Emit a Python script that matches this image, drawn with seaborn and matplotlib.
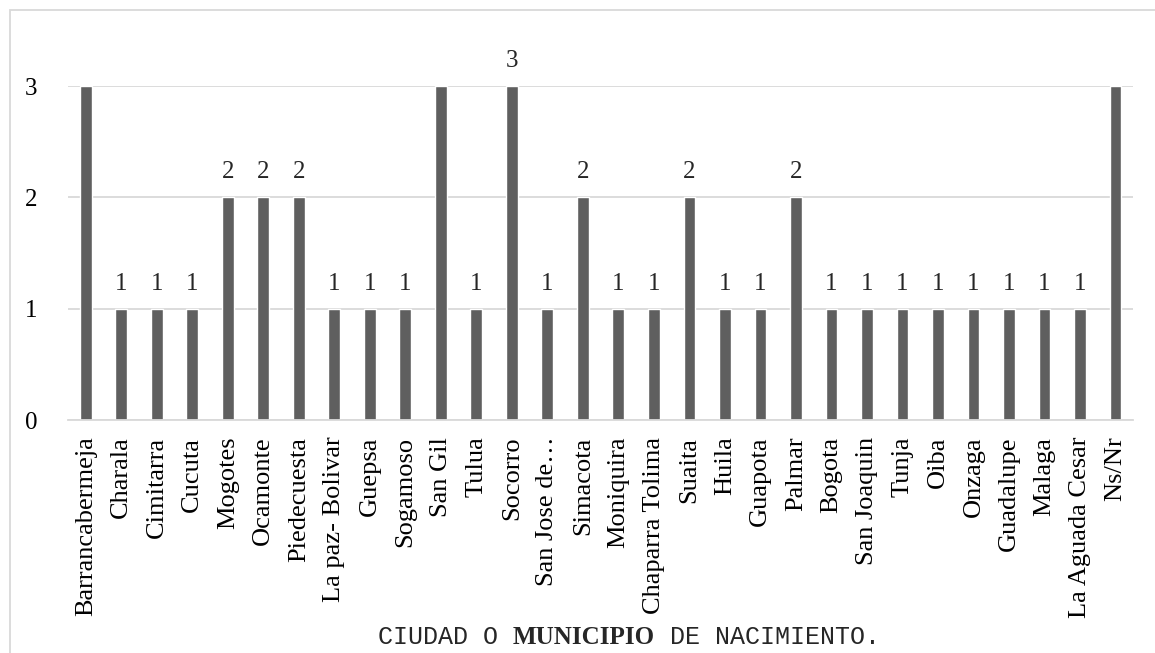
import matplotlib
matplotlib.use("Agg")
import matplotlib.pyplot as plt
import seaborn as sns
import pandas as pd
from matplotlib.patches import Rectangle

# datos del grafico
municipios = ['Barrancabermeja', 'Charala', 'Cimitarra', 'Cucuta', 'Mogotes', 'Ocamonte',
              'Piedecuesta', 'La paz- Bolivar', 'Guepsa', 'Sogamoso', 'San Gil', 'Tulua',
              'Socorro', 'San Jose de…', 'Simacota', 'Moniquira', 'Chaparra Tolima', 'Suaita',
              'Huila', 'Guapota', 'Palmar', 'Bogota', 'San Joaquin', 'Tunja', 'Oiba',
              'Onzaga', 'Guadalupe', 'Malaga', 'La Aguada Cesar', 'Ns/Nr']
cantidad = [3, 1, 1, 1, 2, 2, 2, 1, 1, 1, 3, 1, 3, 1, 2, 1, 1, 2, 1, 1, 2, 1, 1, 1, 1, 1, 1, 1, 1, 3]
# etiquetas de datos visibles (Excel oculta algunas)
etiquetas = ['', '1', '1', '1', '2', '2', '2', '1', '1', '1', '', '1', '3', '1', '2', '1', '1',
             '2', '1', '1', '2', '1', '1', '1', '1', '1', '1', '1', '1', '']

titulo_a = 'CIUDAD O '
titulo_b = 'MUNICIPIO'
titulo_c = ' DE NACIMIENTO.'

sns.set_theme(style="white")
plt.rcParams['font.family'] = ['Liberation Serif', 'DejaVu Serif']

df = pd.DataFrame({'municipio': municipios, 'cantidad': cantidad})

fig = plt.figure(figsize=(11.55, 6.53), dpi=100)
ax = fig.add_axes([0.0589, 0.3568, 0.9222, 0.5115])

sns.barplot(data=df, x='municipio', y='cantidad', color='#5f5f5f', saturation=1,
            width=0.33, ax=ax)

ax.set_xlim(-0.5, len(municipios) - 0.5)
ax.set_ylim(0, 3)
ax.set_yticks([0, 1, 2, 3])
ax.yaxis.grid(True, color='#d9d9d9', lw=1.3)
ax.set_axisbelow(True)
for s in ['top', 'right', 'left']:
    ax.spines[s].set_visible(False)
ax.spines['bottom'].set_color('#d9d9d9')
ax.spines['bottom'].set_linewidth(1.3)
ax.tick_params(axis='y', length=0, labelsize=18, colors='black', pad=22)
ax.tick_params(axis='x', length=0, labelsize=19, colors='black', pad=12)
plt.setp(ax.get_xticklabels(), rotation=90)
ax.set_xlabel('')
ax.set_ylabel('')

cont = ax.containers[0]
ax.bar_label(cont, labels=etiquetas, padding=10, fontsize=18, clip_on=False)

# borde del area del grafico
fig.patches.append(Rectangle((10 / 1155, -0.1), 1.2, 1 - 10 / 653 + 0.1,
                             transform=fig.transFigure, fill=False,
                             edgecolor='#d9d9d9', lw=1.3))

# titulo con fuentes mezcladas
t1 = fig.text(378 / 1155, 1 - 637 / 653, titulo_a, family='Liberation Mono', fontsize=18,
              va='center', ha='left')
t2 = ax.annotate(titulo_b, xy=(1, 0), xycoords=t1, family='Liberation Serif', fontsize=18,
                 fontweight='bold', va='bottom', ha='left', annotation_clip=False)
t3 = ax.annotate(titulo_c, xy=(1, 0), xycoords=t2, family='Liberation Mono', fontsize=18,
                 va='bottom', ha='left', annotation_clip=False)

fig.savefig('out.png', dpi=100)
